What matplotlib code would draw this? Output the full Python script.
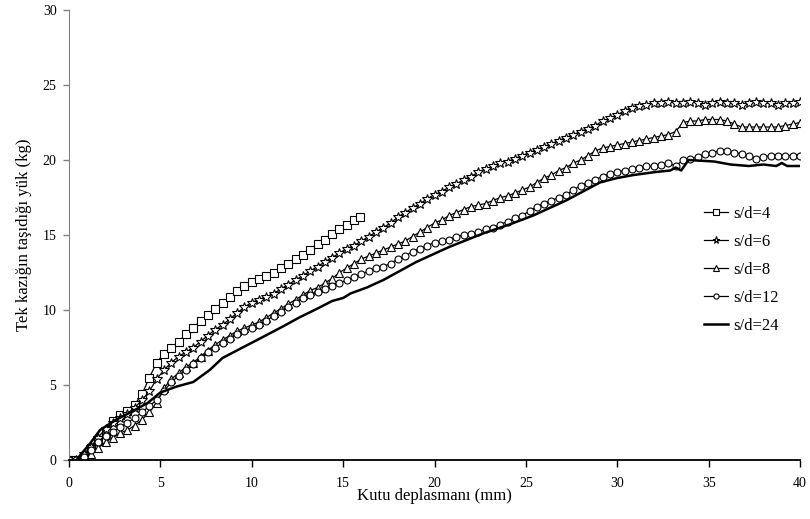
import matplotlib
matplotlib.use("Agg")
import matplotlib.pyplot as plt

plt.rcParams['font.family'] = ['Liberation Serif', 'DejaVu Serif']

# Box displacement (mm) and single pile load (kg) for each spacing ratio
x_sd4 = [0, 0.4, 0.8, 1.2, 1.6, 2.0, 2.4, 2.8, 3.2, 3.6, 4.0, 4.4, 4.8, 5.2, 5.6,
         6.0, 6.4, 6.8, 7.2, 7.6, 8.0, 8.4, 8.8, 9.2, 9.6, 10.0, 10.4, 10.8, 11.2,
         11.6, 12.0, 12.4, 12.8, 13.2, 13.6, 14.0, 14.4, 14.8, 15.2, 15.6, 15.9]
y_sd4 = [0, 0.0, 0.3, 0.8, 1.3, 1.8, 2.6, 3.0, 3.3, 3.7, 4.4, 5.5, 6.5, 7.1, 7.5,
         7.9, 8.4, 8.8, 9.3, 9.7, 10.1, 10.5, 10.9, 11.3, 11.6, 11.9, 12.1, 12.3, 12.5,
         12.8, 13.1, 13.4, 13.7, 14.0, 14.4, 14.7, 15.1, 15.4, 15.7, 16.0, 16.2]

x_long = [0, 0.4, 0.8, 1.2, 1.6, 2.0, 2.4, 2.8, 3.2, 3.6, 4.0, 4.4, 4.8, 5.2, 5.6,
          6.0, 6.4, 6.8, 7.2, 7.6, 8.0, 8.4, 8.8, 9.2, 9.6, 10.0, 10.4, 10.8, 11.2,
          11.6, 12.0, 12.4, 12.8, 13.2, 13.6, 14.0, 14.4, 14.8, 15.2, 15.6, 16.0,
          16.4, 16.8, 17.2, 17.6, 18.0, 18.4, 18.8, 19.2, 19.6, 20.0, 20.4, 20.8,
          21.2, 21.6, 22.0, 22.4, 22.8, 23.2, 23.6, 24.0, 24.4, 24.8, 25.2, 25.6,
          26.0, 26.4, 26.8, 27.2, 27.6, 28.0, 28.4, 28.8, 29.2, 29.6, 30.0, 30.4,
          30.8, 31.2, 31.6, 32.0, 32.4, 32.8, 33.2, 33.6, 34.0, 34.4, 34.8, 35.2,
          35.6, 36.0, 36.4, 36.8, 37.2, 37.6, 38.0, 38.4, 38.8, 39.2, 39.6, 40.0]

y_sd6 = [0, 0.0, 0.4, 0.9, 1.5, 2.1, 2.5, 2.8, 3.1, 3.5, 4.0, 4.6, 5.4, 6.0, 6.5,
         6.9, 7.2, 7.5, 7.9, 8.3, 8.7, 9.0, 9.4, 9.8, 10.2, 10.5, 10.7, 10.9, 11.1,
         11.4, 11.7, 12.0, 12.3, 12.6, 12.9, 13.2, 13.5, 13.8, 14.1, 14.3, 14.6,
         14.9, 15.2, 15.5, 15.8, 16.2, 16.5, 16.8, 17.1, 17.4, 17.7, 17.9, 18.2,
         18.4, 18.7, 18.9, 19.2, 19.4, 19.6, 19.8, 19.9, 20.1, 20.3, 20.5, 20.7,
         20.9, 21.1, 21.3, 21.5, 21.7, 21.9, 22.1, 22.3, 22.6, 22.8, 23.0, 23.3,
         23.5, 23.6, 23.7, 23.8, 23.8, 23.9, 23.8, 23.8, 23.9, 23.8, 23.7, 23.8,
         23.9, 23.8, 23.8, 23.7, 23.8, 23.9, 23.8, 23.8, 23.7, 23.8, 23.8, 23.9]

y_sd8 = [0, 0.0, 0.0, 0.4, 0.8, 1.2, 1.5, 1.8, 2.0, 2.3, 2.7, 3.2, 3.8, 4.8, 5.4,
         5.8, 6.2, 6.5, 6.9, 7.3, 7.7, 8.0, 8.3, 8.6, 8.8, 9.0, 9.2, 9.5, 9.8,
         10.1, 10.4, 10.7, 11.0, 11.3, 11.5, 11.8, 12.1, 12.5, 12.8, 13.1, 13.4,
         13.6, 13.8, 14.0, 14.2, 14.4, 14.6, 14.9, 15.2, 15.5, 15.8, 16.0, 16.3,
         16.5, 16.7, 16.9, 17.0, 17.1, 17.3, 17.5, 17.6, 17.8, 18.0, 18.2, 18.5,
         18.8, 19.0, 19.3, 19.5, 19.8, 20.0, 20.3, 20.6, 20.8, 20.9, 21.0, 21.1,
         21.2, 21.3, 21.4, 21.5, 21.6, 21.7, 21.9, 22.5, 22.6, 22.6, 22.7, 22.7,
         22.7, 22.6, 22.4, 22.2, 22.2, 22.2, 22.2, 22.2, 22.2, 22.3, 22.4, 22.5]

y_sd12 = [0, 0.0, 0.2, 0.7, 1.2, 1.6, 1.9, 2.2, 2.5, 2.8, 3.2, 3.6, 4.0, 4.6, 5.2,
          5.6, 6.0, 6.4, 6.8, 7.2, 7.5, 7.8, 8.1, 8.4, 8.6, 8.8, 9.0, 9.3, 9.6,
          9.9, 10.2, 10.5, 10.8, 11.0, 11.2, 11.4, 11.6, 11.8, 12.0, 12.2, 12.4,
          12.6, 12.8, 12.9, 13.1, 13.4, 13.6, 13.9, 14.1, 14.3, 14.5, 14.6, 14.7,
          14.9, 15.0, 15.1, 15.2, 15.4, 15.5, 15.7, 15.9, 16.1, 16.3, 16.6, 16.9,
          17.1, 17.3, 17.5, 17.7, 18.0, 18.3, 18.5, 18.7, 18.9, 19.1, 19.2, 19.3,
          19.4, 19.5, 19.6, 19.6, 19.7, 19.8, 19.6, 20.0, 20.1, 20.2, 20.4, 20.5,
          20.6, 20.6, 20.5, 20.4, 20.3, 20.1, 20.2, 20.3, 20.3, 20.3, 20.3, 20.3]

x_sd24 = [0, 0.3, 0.6, 1.15, 1.7, 2.6, 3.4, 4.3, 5.0, 5.9, 6.8, 7.7, 8.4, 9.5,
          10.45, 11.7, 12.6, 13.6, 14.4, 14.7, 15.0, 15.4, 16.3, 17.2, 18.1, 19.0,
          20.8, 22.65, 24.1, 25.4, 27.2, 29.05, 30.0, 30.9, 32.1, 32.9, 33.2, 33.5,
          33.9, 35.3, 36.2, 37.2, 38.0, 38.7, 39.0, 39.3, 40.0]
y_sd24 = [0, -0.2, 0.3, 1.1, 2.0, 2.7, 3.2, 3.8, 4.5, 4.9, 5.2, 6.0, 6.8, 7.5,
          8.1, 8.9, 9.5, 10.1, 10.6, 10.7, 10.8, 11.1, 11.5, 12.0, 12.6, 13.2,
          14.2, 15.1, 15.7, 16.3, 17.3, 18.5, 18.8, 19.0, 19.2, 19.3, 19.5, 19.3,
          20.0, 19.9, 19.7, 19.6, 19.7, 19.6, 19.8, 19.6, 19.6]

fig = plt.figure(figsize=(8.1, 5.19), dpi=100)
ax = fig.add_axes([69 / 810, 1 - 460 / 519, 731 / 810, 450 / 519])

mk = dict(color='black', lw=0.9, mfc='white', mec='black', mew=0.8)
ax.plot(x_sd4, y_sd4, marker='s', ms=5.3, label='s/d=4', **mk)
ax.plot(x_long, y_sd6, marker='*', ms=7, label='s/d=6', **mk)
ax.plot(x_long, y_sd8, marker='^', ms=5.3, label='s/d=8', **mk)
ax.plot(x_long, y_sd12, marker='o', ms=5, label='s/d=12', **mk)
ax.plot(x_sd24, y_sd24, color='black', lw=1.8, label='s/d=24')

ax.set_xlim(0, 40)
ax.set_ylim(0, 30)
ax.set_xticks(range(0, 41, 5))
ax.set_yticks(range(0, 31, 5))

for side in ['top', 'right']:
    ax.spines[side].set_visible(False)
ax.spines['left'].set_color('#808080')
ax.spines['bottom'].set_color('black')
ax.spines['bottom'].set_linewidth(1.3)

ax.tick_params(axis='y', direction='out', length=4, width=1, color='#808080',
               pad=5, labelsize=10)
ax.tick_params(axis='x', direction='out', length=5, width=1, color='black',
               pad=7, labelsize=10)

ax.set_xlabel('Kutu deplasmanı (mm)', fontsize=12, labelpad=-1)
ax.set_ylabel('Tek kazığın taşıdığı yük (kg)', fontsize=12, labelpad=8)

ax.legend(loc='upper left', bbox_to_anchor=(0.868, 0.565), frameon=False,
          fontsize=12, handlelength=1.45, handletextpad=0.35,
          labelspacing=0.72, borderpad=0, borderaxespad=0, markerscale=0.75)

fig.savefig('out.png', dpi=100)
